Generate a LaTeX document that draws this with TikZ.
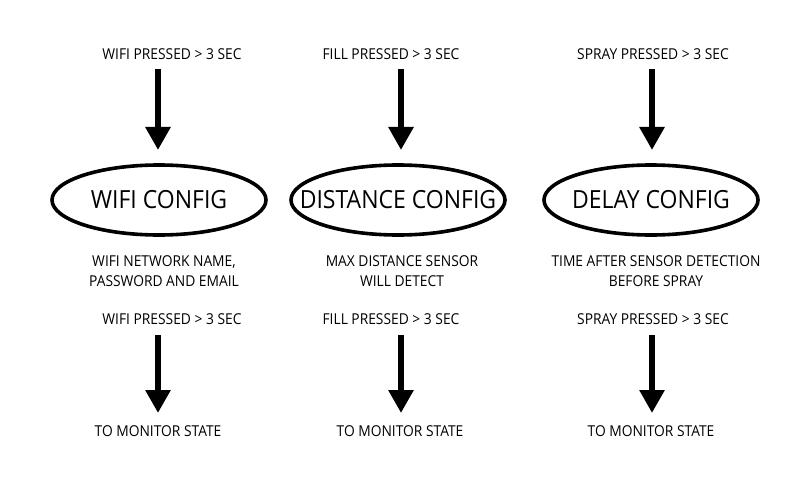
\documentclass[tikz,border=0pt]{standalone}
\usepackage{fontspec}
\setmainfont[FakeStretch=0.92]{Open Sans}
\usetikzlibrary{shapes.geometric,arrows.meta}
\begin{document}
\begin{tikzpicture}[x=1pt,y=-1pt,
  lbl/.style={inner sep=0pt,font=\fontsize{15}{20}\selectfont,align=center},
  big/.style={draw,ellipse,line width=3.6pt,minimum width=214pt,minimum height=70pt,inner sep=0pt},
  bigtext/.style={inner sep=0pt,font=\fontsize{25}{30}\selectfont},
  bigarrow/.style={line width=6.5pt,-{Triangle[width=24pt,length=23pt]}}]
\useasboundingbox (0,0) rectangle (800,500);
% column 1
\node[lbl] (t1) at (172,54) {WIFI PRESSED > 3 SEC};
\node[big] (e1) at (159,200) {};
\node[bigtext] (c1) at (e1.center) {WIFI CONFIG};
\node[lbl] (d1) at (164,271) {WIFI NETWORK NAME,\\PASSWORD AND EMAIL};
\node[lbl] (s1) at (172,319) {WIFI PRESSED > 3 SEC};
\node[lbl] (m1) at (158,431) {TO MONITOR STATE};
% column 2
\node[lbl] (t2) at (391,54) {FILL PRESSED > 3 SEC};
\node[big] (e2) at (398,200) {};
\node[bigtext] (c2) at (e2.center) {DISTANCE CONFIG};
\node[lbl] (d2) at (402,271) {MAX DISTANCE SENSOR\\WILL DETECT};
\node[lbl] (s2) at (391,319) {FILL PRESSED > 3 SEC};
\node[lbl] (m2) at (400,431) {TO MONITOR STATE};
% column 3
\node[lbl] (t3) at (653,54) {SPRAY PRESSED > 3 SEC};
\node[big] (e3) at (651,200) {};
\node[bigtext] (c3) at (e3.center) {DELAY CONFIG};
\node[lbl] (d3) at (656,271) {TIME AFTER SENSOR DETECTION\\BEFORE SPRAY};
\node[lbl] (s3) at (653,319) {SPRAY PRESSED > 3 SEC};
\node[lbl] (m3) at (651,431) {TO MONITOR STATE};
% arrow endpoints
\coordinate (a1s) at (158,69); \coordinate (a1e) at (158,150);
\coordinate (a2s) at (401,69); \coordinate (a2e) at (401,150);
\coordinate (a3s) at (652,69); \coordinate (a3e) at (652,150);
\coordinate (b1s) at (158,335); \coordinate (b1e) at (158,413);
\coordinate (b2s) at (401,335); \coordinate (b2e) at (401,413);
\coordinate (b3s) at (652,335); \coordinate (b3e) at (652,413);
\foreach \p in {a1,a2,a3,b1,b2,b3} \draw[bigarrow] (\p s) -- (\p e);
\end{tikzpicture}
\end{document}
